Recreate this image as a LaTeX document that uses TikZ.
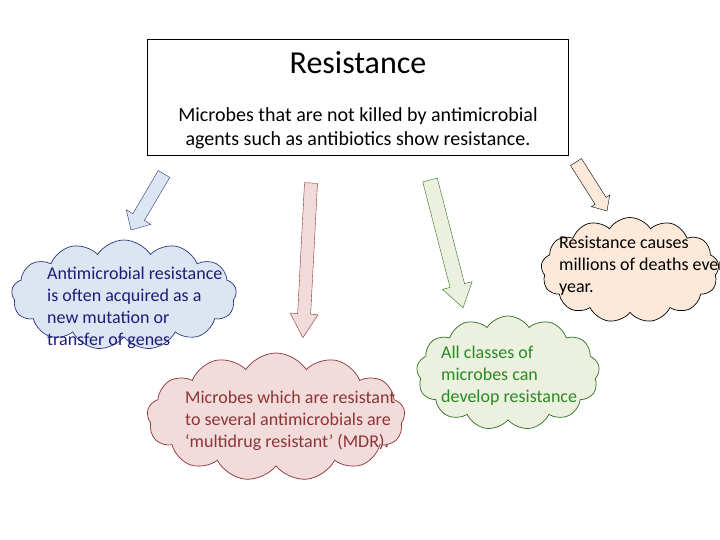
\documentclass[tikz,border=0pt]{standalone}
\usepackage{fontspec}
\setmainfont{Carlito}
\usetikzlibrary{shapes.symbols}

\definecolor{bluefill}{HTML}{DCE6F2}
\definecolor{blueline}{HTML}{2A3580}
\definecolor{bluetext}{HTML}{1C1C78}
\definecolor{redfill}{HTML}{F2DCDB}
\definecolor{redline}{HTML}{8C3030}
\definecolor{redtext}{HTML}{8E3434}
\definecolor{greenfill}{HTML}{EBF1DE}
\definecolor{greenline}{HTML}{2E6E1E}
\definecolor{greentext}{HTML}{2A8A24}
\definecolor{peachfill}{HTML}{FDE9D9}

% block arrow: style, start, angle, length, shaft half width, head half width, head length
\newcommand{\blockarrow}[7]{%
  \draw[#1, shift={#2}, rotate=#3] (0,-#5) -- ({#4-#7},-#5) -- ({#4-#7},-#6)
    -- (#4,0) -- ({#4-#7},#6) -- ({#4-#7},#5) -- (0,#5) -- cycle;}

\begin{document}
\begin{tikzpicture}[x=1pt, y=-1pt,
    puff/.style={cloud, cloud puffs=13, cloud puff arc=115, cloud ignores aspect, draw, line width=0.7pt, inner sep=0pt},
    say/.style={align=left, anchor=west, inner sep=0pt, font=\fontsize{18}{22}\selectfont}]
  \useasboundingbox (0,0) rectangle (720,540);
  \clip (0,0) rectangle (720,540);

  \node [draw, line width=0.8pt, minimum width=421pt, minimum height=116pt, inner sep=0pt] (box) at (357.5,97) {};
  \node [font=\fontsize{32}{38}\selectfont] (title) at (358,63) {Resistance};
  \node [align=center, font=\fontsize{20}{24}\selectfont] (intro) at (358,128)
    {Microbes that are not killed by antimicrobial\\agents such as antibiotics show resistance.};

  \blockarrow{fill=bluefill, draw=blueline}{(164,174)}{-120.5}{65}{6.7}{14.3}{15}
  \blockarrow{fill=redfill, draw=redline}{(311,183)}{-93}{155}{6.5}{14}{24}
  \blockarrow{fill=greenfill, draw=greenline}{(430,180)}{-75.5}{132}{7.5}{15.3}{23}
  \blockarrow{fill=peachfill, draw=black}{(576,162)}{-57.7}{58}{6.5}{10.8}{12}

  \node [puff, fill=bluefill, draw=blueline, minimum width=225pt, minimum height=110pt] (c1) at (124,295) {};
  \node [puff, fill=redfill, draw=redline, minimum width=258pt, minimum height=128pt] (c2) at (276,417) {};
  \node [puff, fill=greenfill, draw=greenline, minimum width=183pt, minimum height=114pt] (c3) at (508,373) {};
  \node [puff, fill=peachfill, draw=black, minimum width=178pt, minimum height=105pt] (c4) at (630,270) {};

  \node [say, text=bluetext] (t1) at (47,308)
    {Antimicrobial resistance\\is often acquired as a\\new mutation or\\transfer of genes};
  \node [say, text=redtext] (t2) at (185,421)
    {Microbes which are resistant\\to several antimicrobials are\\‘multidrug resistant’ (MDR).};
  \node [say, text=greentext] (t3) at (441,376)
    {All classes of\\microbes can\\develop resistance};
  \node [say] (t4) at (559,266)
    {Resistance causes\\millions of deaths every\\year.};
\end{tikzpicture}
\end{document}
